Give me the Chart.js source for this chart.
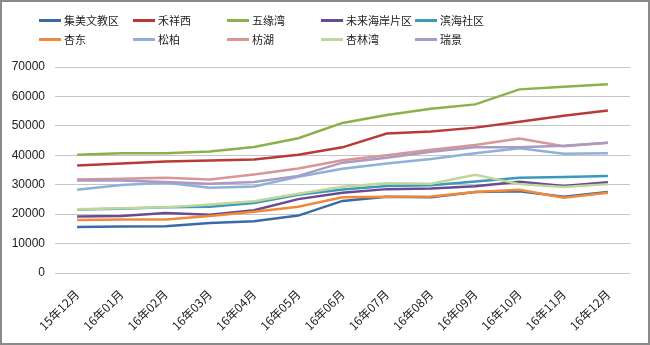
<!DOCTYPE html>
<html>
<head>
<meta charset="utf-8">
<script src="https://cdn.jsdelivr.net/npm/chart.js@4"></script>
<style>
  body { margin: 0; background: #fff; }
  #wrap { position: relative; width: 650px; height: 345px; }
  #frame { position: absolute; left: 0; top: 0; width: 650px; height: 345px;
           border: 2px solid #8a8a8a; box-sizing: border-box; pointer-events: none; }
  #legend { position: absolute; left: 39px; top: 11px; display: grid;
            grid-template-columns: repeat(5, 94px); row-gap: 1px;
            font-family: "Noto Sans CJK SC", sans-serif; font-size: 11px; color: #222; }
  .item { display: flex; align-items: center; height: 18px; white-space: nowrap; }
  .swatch { width: 22px; height: 3px; margin-right: 3px; }
</style>
</head>
<body>
<div id="wrap">
  <canvas id="chart" width="650" height="345"></canvas>
  <div id="legend"></div>
  <div id="frame"></div>
</div>
<script>
const months = ['15年12月', '16年01月', '16年02月', '16年03月', '16年04月', '16年05月', '16年06月',
  '16年07月', '16年08月', '16年09月', '16年10月', '16年11月', '16年12月'];

const seriesNames = ['集美文教区', '禾祥西', '五缘湾', '未来海岸片区', '滨海社区',
  '杏东', '松柏', '枋湖', '杏林湾', '瑞景'];
const seriesColors = ['#3b6aa8', '#b83b38', '#8cb04a', '#6a4a90', '#3a9ab8',
  '#f08a3a', '#8fb0d8', '#d99694', '#c0d69a', '#a99cc4'];

const jimei    = [15600, 15800, 15900, 17000, 17600, 19500, 24500, 25900, 25700, 27500, 27800, 25900, 27500];
const hexiangxi = [36500, 37200, 37900, 38200, 38600, 40200, 42700, 47400, 48100, 49400, 51400, 53400, 55200];
const wuyuanwan = [40200, 40700, 40700, 41300, 42800, 45800, 51000, 53700, 55800, 57300, 62400, 63300, 64100];
const weilai   = [19200, 19400, 20400, 19800, 21300, 25100, 27300, 28500, 28700, 29500, 31000, 29600, 30800];
const binhai   = [21600, 21800, 22300, 22500, 23800, 26600, 28400, 29600, 29800, 31100, 32400, 32600, 33000];
const xingdong = [18000, 18200, 18200, 19400, 20800, 22500, 25700, 25900, 26000, 27500, 28300, 25600, 27300];
const songbai  = [28300, 29900, 30700, 29000, 29400, 32700, 35400, 37200, 38700, 40700, 42400, 40500, 40700];
const fanghu   = [31800, 32000, 32400, 31800, 33500, 35500, 38300, 40000, 41900, 43500, 45700, 43100, 44300];
const xinglinwan = [21700, 22000, 22300, 23300, 24400, 26900, 29300, 30500, 30300, 33400, 30200, 29200, 30200];
const ruijing  = [31400, 31400, 30900, 30300, 30900, 33000, 37500, 39200, 41200, 42700, 42700, 43200, 44300];

const seriesValues = [jimei, hexiangxi, wuyuanwan, weilai, binhai, xingdong, songbai, fanghu, xinglinwan, ruijing];
const yTicks = [0, 10000, 20000, 30000, 40000, 50000, 60000, 70000];

// legend laid out as a fixed grid, like the original
const legend = document.getElementById('legend');
seriesNames.forEach((name, i) => {
  const item = document.createElement('div');
  item.className = 'item';
  item.innerHTML = '<span class="swatch" style="background:' + seriesColors[i] + '"></span>' + name;
  legend.appendChild(item);
});

const datasets = seriesNames.map((name, i) => ({
  label: name,
  data: seriesValues[i],
  borderColor: seriesColors[i],
  backgroundColor: seriesColors[i],
  borderWidth: 2.5,
  pointRadius: 0,
  tension: 0,
  order: 10 - i
}));

new Chart(document.getElementById('chart'), {
  type: 'line',
  data: { labels: months, datasets: datasets },
  options: {
    responsive: false,
    animation: false,
    layout: { padding: { top: 67, right: 20, left: 0, bottom: 0 } },
    plugins: { legend: { display: false }, tooltip: { enabled: false } },
    scales: {
      x: {
        offset: true,
        grid: { display: false },
        border: { display: false },
        ticks: {
          minRotation: 45, maxRotation: 45, padding: 6,
          color: '#222',
          font: { family: '"Noto Sans CJK SC", sans-serif', size: 12 }
        },
        afterFit: (scale) => { scale.height = 72; }
      },
      y: {
        min: 0, max: 70000,
        afterBuildTicks: (scale) => { scale.ticks = yTicks.map(v => ({ value: v })); },
        grid: { color: '#c4c4c4', lineWidth: 1, drawTicks: false },
        border: { display: false },
        ticks: {
          padding: 10,
          color: '#222',
          font: { family: '"Liberation Sans", Arial, sans-serif', size: 12 },
          callback: (v) => String(v)
        },
        afterFit: (scale) => { scale.width = 55; }
      }
    }
  }
});
</script>
</body>
</html>
